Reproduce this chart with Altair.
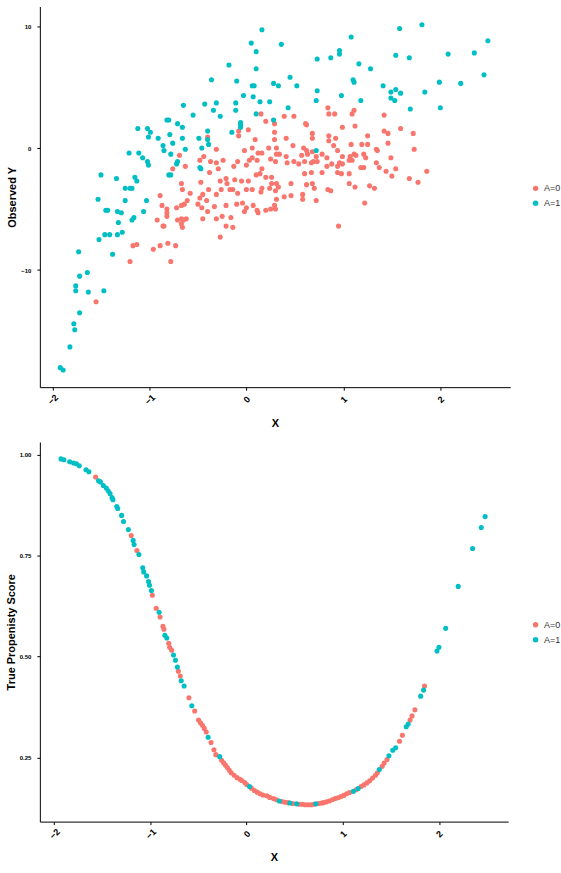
import altair as alt
import pandas as pd

# ---------------- Top panel: Observed Y vs X ----------------
teal_x = [0.16, 0.05, 0.10, 0.10, -0.18, -0.36, -0.10, 0.06, 0.08, 0.28, 0.33, -0.03, 0.07, 0.14, -0.11,
          0.24, -0.43, -0.31, -0.65, -0.34, -0.11, -0.55, -0.27, -0.06, -0.06, 0.28, 0.10, -0.82, -0.80,
          -0.71, -0.66, -1.12, -1.02, -0.99, -1.01, -0.91, -0.79, -0.66, -0.86, -0.76, -0.85, -0.78, -0.63,
          -0.49, -0.40, -0.39, -0.46, -0.15, -0.06, -0.40, -0.71, -0.72, -0.48, -0.47, -0.80, -0.78, -1.21,
          -1.11, -1.07, -1.02, -1.01, -1.34, -1.50, -1.15, -1.13, -1.18, -1.20, -1.25, -1.53, -1.25, -1.03,
          -1.45, -1.43, -1.33, -1.29, -1.16, -1.18, -1.06,
          -1.73, -1.52, -1.46, -1.41, -1.33, -1.28, -1.32, -1.38, -1.72, -1.64, -1.76, -1.76, -1.63, -1.47,
          -1.72, -1.78, -1.77, -1.82, -1.92, -1.89,
          0.36, 1.08, 1.58, 1.81, 2.49, 0.73, 0.87, 0.96, 0.96, 1.54, 1.68, 2.08, 2.35, 1.16, 1.28, 2.45,
          0.45, 0.52, 1.10, 1.11, 0.73, 0.98, 0.72, 1.18, 1.41, 1.49, 1.54, 1.59, 1.49, 1.53, 1.84, 1.99,
          2.21, 2.00, 1.69, 0.43, 0.72]
teal_y = [9.7, 8.6, 7.9, 6.5, 6.8, 5.6, 5.5, 5.1, 5.1, 5.3, 5.1, 4.3, 4.2, 3.8, 3.7,
          3.8, 3.6, 3.7, 3.5, 3.1, 3.1, 2.7, 2.6, 2.1, 1.9, 2.3, 2.8, 2.3, 2.3,
          2.0, 1.7, 1.6, 1.6, 1.3, 0.9, 0.8, 1.1, 0.8, 0.2, 0.4, -0.2, -0.5, -0.1,
          0.8, 0.7, 0.3, 0.0, 1.3, 1.7, 1.4, -1.1, -1.3, -1.6, -1.7, -2.2, -2.2, -0.4,
          -0.4, -0.8, -1.1, -1.4, -2.5, -2.2, -2.4, -2.7, -3.3, -3.3, -3.3, -4.2, -4.3, -4.3,
          -5.1, -5.1, -5.2, -5.3, -5.7, -5.9, -5.2,
          -8.5, -7.5, -7.1, -7.1, -7.1, -6.9, -6.1, -8.7, -10.5, -10.2, -11.3, -11.7, -11.8, -11.7,
          -13.5, -14.4, -14.9, -16.3, -18.0, -18.2,
          8.5, 9.1, 9.8, 10.1, 8.8, 7.3, 7.4, 8.0, 7.7, 7.6, 7.4, 7.7, 7.8, 6.9, 6.5, 6.0,
          5.8, 5.1, 5.6, 5.4, 4.7, 4.3, 3.9, 3.9, 5.1, 4.6, 4.8, 4.5, 4.1, 3.9, 4.6, 5.4,
          5.3, 3.3, 3.2, 3.3, -0.2]

salmon_x = [-1.55, -1.20, -0.78, -1.17, -1.13, -0.96, -0.89, -0.81, -0.73, -0.27, -0.21, -0.14, -0.85, -0.66, -0.67,
            -0.40, -0.31, -0.08, -0.08, 0.02, 0.20, 0.15, 0.09, 0.29, 0.29, -0.02, 0.06, 0.16, 0.12, -0.69,
            -0.63, -0.44, -0.48, -0.37, -0.31, -0.24, -0.13, -0.09, 0.00, 0.03, 0.06, 0.11, 0.16, 0.25, 0.30,
            0.23, 0.31, 0.31, -0.76, -0.67, -0.47, -0.38, -0.29, -0.21, -0.27, -0.20, -0.12, -0.05, 0.02, 0.10,
            0.14, 0.20, 0.26, 0.26, 0.31, -0.66, -0.58, -0.45, -0.39, -0.48, -0.41, -0.31, -0.26, -0.17, -0.14,
            -0.09, 0.00, 0.06, 0.16, 0.15, 0.24, 0.33, 0.30, -0.89, -0.87, -0.82, -0.72, -0.67, -0.64, -0.61,
            -0.50, -0.46, -0.40, -0.33, -0.21, -0.10, -0.04, 0.00, 0.07, 0.11, 0.20, 0.29,
            -0.92, -0.86, -0.82, -0.82, -0.67, -0.71, -0.65, -0.62, -0.45, -0.31, -0.25, -0.16, -0.02, 0.12,
            0.29, 0.31, 0.25, 0.30,
            0.39, 0.49, 0.84, 0.85, 0.91, 1.09, 1.11, 1.42, 0.61, 0.62, 0.99, 1.12, 1.59, 1.42, 1.46, 1.72,
            0.68, 0.68, 0.41, 0.85, 0.92, 0.85, 0.90, 1.25, 1.19, 1.25, 1.08, 1.46, 0.48, 0.59, 0.62, 0.68,
            1.34, 1.35, 1.73, 0.34, 0.41, 0.57, 0.63, 0.72, 0.78, 0.83, 0.94, 0.99, 1.07, 1.11, 1.21, 1.23,
            1.49, 1.34, 0.42, 0.49, 0.54, 0.60, 0.67, 0.69, 0.73, 0.83, 0.88, 0.94, 0.96, 0.99, 1.06, 1.09,
            1.13, 1.18, 1.21, 1.37, 1.44, 1.54, 1.86, 0.60, 0.67, 0.78, 0.94, 0.98, 1.06, 1.50, 1.68, 1.77,
            0.46, 0.62, 0.68, 0.70, 0.84, 0.87, 1.06, 1.12, 1.27, 1.32, 0.39, 0.46, 0.58, 0.58, 0.72, 1.22,
            0.95]
salmon_y = [-12.6, -9.3, -9.3, -8.0, -7.9, -8.3, -8.0, -7.8, -8.0, -7.3, -6.4, -6.5, -6.4, -6.5, -6.2,
            0.9, -0.1, 1.0, 1.4, 1.5, 2.2, 2.8, 0.7, 1.3, 0.7, -0.2, 0.0, -0.4, -0.4, -0.6,
            -1.5, -0.7, -1.0, -1.1, -1.2, -1.0, -1.5, -1.1, -1.4, -1.0, -0.8, -1.0, -1.7, -0.9, -1.1,
            0.0, 0.0, -0.5, -1.7, -2.9, -2.8, -2.0, -1.7, -2.5, -2.7, -2.9, -2.6, -2.7, -2.7, -2.2,
            -2.1, -2.4, -2.4, -2.9, -2.9, -3.4, -3.7, -3.8, -3.4, -4.1, -4.3, -3.8, -3.4, -3.4, -3.4,
            -3.7, -3.4, -3.4, -3.3, -3.6, -3.3, -3.2, -3.5, -3.9, -4.7, -5.0, -4.9, -4.7, -4.6, -4.3,
            -4.6, -4.9, -5.2, -4.8, -4.7, -4.6, -4.5, -4.9, -4.7, -5.1, -5.1, -4.7,
            -5.9, -6.4, -5.6, -5.3, -5.8, -5.9, -5.9, -5.8, -5.8, -5.8, -5.6, -5.7, -5.2, -5.3,
            2.0, -4.2, -5.0, -5.0,
            2.6, 2.6, 3.3, 2.8, 2.8, 2.8, 3.1, 2.7, 2.0, 1.9, 1.7, 1.8, 1.6, 1.4, 1.2, 1.2,
            1.2, 0.8, 0.8, 1.0, 0.8, 0.6, 0.2, 1.0, 0.3, 0.3, 0.3, 0.4, 0.2, 0.0, -0.2, -0.3,
            -0.1, -0.2, -0.1, -0.5, -0.7, -0.6, -0.5, -0.7, -0.5, -0.8, -0.2, -0.7, -0.7, -0.5, -0.5, -0.8,
            -0.8, -1.2, -1.2, -1.1, -1.3, -1.1, -1.2, -1.1, -1.1, -1.5, -1.3, -1.5, -1.2, -1.3, -1.0, -1.0,
            -0.6, -1.6, -1.6, -1.6, -1.9, -1.7, -1.9, -2.1, -2.0, -2.0, -2.0, -2.1, -2.1, -2.3, -2.5, -2.8,
            -2.9, -3.0, -2.9, -3.3, -3.4, -3.5, -2.9, -3.2, -3.1, -3.3, -4.0, -3.9, -3.8, -4.2, -4.3, -4.5,
            -6.4]

# ---------------- Bottom panel: True propensity score vs X ----------------
ps_x = [-1.93, -1.90, -1.84, -1.80, -1.77, -1.74, -1.67, -1.64, -1.57, -1.54, -1.52, -1.49, -1.46, -1.44,
        -1.42, -1.40, -1.39, -1.35, -1.34, -1.30, -1.28, -1.23, -1.20, -1.18, -1.17, -1.14, -1.12, -1.08,
        -1.07, -1.04, -1.02, -1.01, -0.99, -0.98, -0.94, -0.91, -0.90, -0.87, -0.86, -0.85, -0.83, -0.81,
        -0.80, -0.78, -0.76, -0.74, -0.72, -0.71, -0.69, -0.68, -0.65, -0.60, -0.57, -0.54, -0.50, -0.48,
        -0.46, -0.44, -0.42, -0.40, -0.37, -0.34, -0.32, -0.28, -0.26, -0.24, -0.22, -0.20, -0.18, -0.16,
        -0.13, -0.10, -0.07, -0.05, -0.02, 0.00, 0.03, 0.05, 0.08, 0.11, 0.14, 0.17, 0.21, 0.24, 0.28,
        0.31, 0.34, 0.37, 0.40, 0.43, 0.45, 0.48, 0.52, 0.55, 0.58, 0.61, 0.64, 0.67, 0.70, 0.72, 0.75,
        0.78, 0.80, 0.83, 0.86, 0.89, 0.92, 0.95, 0.98, 1.01, 1.04, 1.07, 1.11, 1.14, 1.16, 1.19, 1.22,
        1.25, 1.28, 1.31, 1.34, 1.36, 1.38, 1.41, 1.43, 1.46, 1.48, 1.52, 1.55, 1.59, 1.62, 1.66, 1.68,
        1.70, 1.72, 1.75, 1.81, 1.84, 1.85, 1.98, 2.00, 2.07, 2.20, 2.35, 2.44, 2.48]
ps_y = [0.990, 0.988, 0.983, 0.980, 0.978, 0.973, 0.963, 0.958, 0.945, 0.936, 0.933, 0.924, 0.918, 0.911,
        0.904, 0.894, 0.889, 0.872, 0.867, 0.850, 0.835, 0.815, 0.800, 0.788, 0.778, 0.763, 0.753, 0.720,
        0.710, 0.700, 0.686, 0.677, 0.664, 0.652, 0.620, 0.610, 0.598, 0.575, 0.568, 0.553, 0.546, 0.533,
        0.523, 0.516, 0.504, 0.491, 0.474, 0.464, 0.452, 0.440, 0.427, 0.398, 0.378, 0.365, 0.343, 0.336,
        0.330, 0.322, 0.313, 0.300, 0.287, 0.269, 0.257, 0.252, 0.243, 0.237, 0.231, 0.225, 0.218, 0.212,
        0.206, 0.200, 0.196, 0.193, 0.188, 0.183, 0.178, 0.174, 0.168, 0.164, 0.160, 0.157, 0.155, 0.151, 0.148,
        0.145, 0.142, 0.141, 0.139, 0.138, 0.137, 0.136, 0.135, 0.134, 0.134, 0.133, 0.133, 0.133, 0.134, 0.135, 0.136,
        0.137, 0.138, 0.140, 0.142, 0.145, 0.148, 0.150, 0.153, 0.156, 0.160, 0.163, 0.166, 0.170, 0.173, 0.178, 0.182,
        0.187, 0.192, 0.199, 0.206, 0.212, 0.220, 0.228, 0.236, 0.245, 0.254, 0.268, 0.274, 0.290, 0.305, 0.326, 0.333,
        0.343, 0.353, 0.368, 0.402, 0.417, 0.427, 0.514, 0.523, 0.570, 0.674, 0.768, 0.820, 0.847]
ps_a = [1, 1, 1, 1, 1, 1, 1, 1, 0, 1, 1, 1, 1, 1,
        1, 1, 1, 1, 1, 1, 1, 1, 0, 1, 1, 0, 1, 1,
        1, 1, 1, 1, 1, 0, 0, 1, 0, 0, 0, 1, 1, 0,
        0, 0, 1, 1, 1, 0, 0, 1, 1, 0, 1, 0, 0, 0,
        0, 0, 0, 1, 0, 0, 0, 1, 0, 0, 0, 0, 0, 0,
        0, 0, 0, 0, 0, 0, 1, 0, 0, 0, 0, 0, 0, 0, 0,
        0, 1, 0, 0, 0, 1, 0, 1, 0, 0, 0, 0, 0, 0, 1, 0,
        0, 0, 0, 0, 0, 0, 0, 0, 0, 0, 0, 1, 0, 1, 0, 0,
        0, 0, 0, 0, 0, 1, 0, 0, 0, 1, 1, 1, 0, 0, 1, 1,
        0, 0, 0, 1, 1, 0, 1, 1, 1, 1, 1, 1, 1]

groups = ["A=0", "A=1"]
colors = ["#F8766D", "#00BFC4"]
FONT = "Arial"

df_top = pd.DataFrame({
    "X": salmon_x + teal_x,
    "Y": salmon_y + teal_y,
    "A": [groups[0]] * len(salmon_x) + [groups[1]] * len(teal_x),
})
df_bot = pd.DataFrame({"X": ps_x, "PS": ps_y, "A": [groups[a] for a in ps_a]})
df_bot = pd.concat([df_bot[df_bot.A == "A=0"], df_bot[df_bot.A == "A=1"]])


def axis_x():
    return alt.Axis(values=[-2, -1, 0, 1, 2], format="d", labelAngle=-45, labelAlign="center",
                    labelBaseline="middle", labelPadding=9, labelFontSize=9, titlePadding=11)


def legend(y):
    return alt.Legend(title=None, orient="none", legendX=493, legendY=y, symbolType="circle",
                      symbolSize=30, labelFontSize=9, labelColor="#333333", labelFont=FONT,
                      rowPadding=5, labelOffset=4, padding=0, symbolStrokeWidth=0)


color_scale = alt.Scale(domain=groups, range=colors)

top = alt.Chart(df_top).mark_circle(size=26, opacity=1).encode(
    x=alt.X("X:Q", title="X", scale=alt.Scale(domain=[-2.13, 2.72], nice=False, zero=False), axis=axis_x()),
    y=alt.Y("Y:Q", title="Observed Y", scale=alt.Scale(domain=[-19.6, 11.6], nice=False, zero=False),
            axis=alt.Axis(values=[-10, 0, 10], format="d", labelPadding=6, titlePadding=3)),
    color=alt.Color("A:N", scale=color_scale, legend=legend(178)),
    order=alt.Order("A:N"),
).properties(width=472, height=382)

bottom = alt.Chart(df_bot).mark_circle(size=26, opacity=1).encode(
    x=alt.X("X:Q", title="X", scale=alt.Scale(domain=[-2.15, 2.72], nice=False, zero=False), axis=axis_x()),
    y=alt.Y("PS:Q", title="True Propenisty Score",
            scale=alt.Scale(domain=[0.091, 1.032], nice=False, zero=False),
            axis=alt.Axis(values=[0.25, 0.5, 0.75, 1.0], format=".2f", labelPadding=6, titlePadding=3)),
    color=alt.Color("A:N", scale=color_scale, legend=legend(179)),
    order=alt.Order("A:N"),
).properties(width=470, height=381)

chart = alt.vconcat(top, bottom, spacing=13).resolve_scale(color="independent").resolve_legend(
    color="independent"
).properties(
    padding={"left": 5, "top": 5, "right": 0, "bottom": 0}
).configure_view(stroke=None).configure_axis(
    grid=False, domainColor="black", domainWidth=1, tickColor="black", tickSize=3, tickWidth=1,
    labelFont=FONT, labelFontSize=6, labelFontWeight="bold", labelColor="black",
    titleFont=FONT, titleFontSize=11, titleFontWeight="bold", titleColor="black",
)

chart.save("out.html", embed_options={"renderer": "svg", "actions": False})
